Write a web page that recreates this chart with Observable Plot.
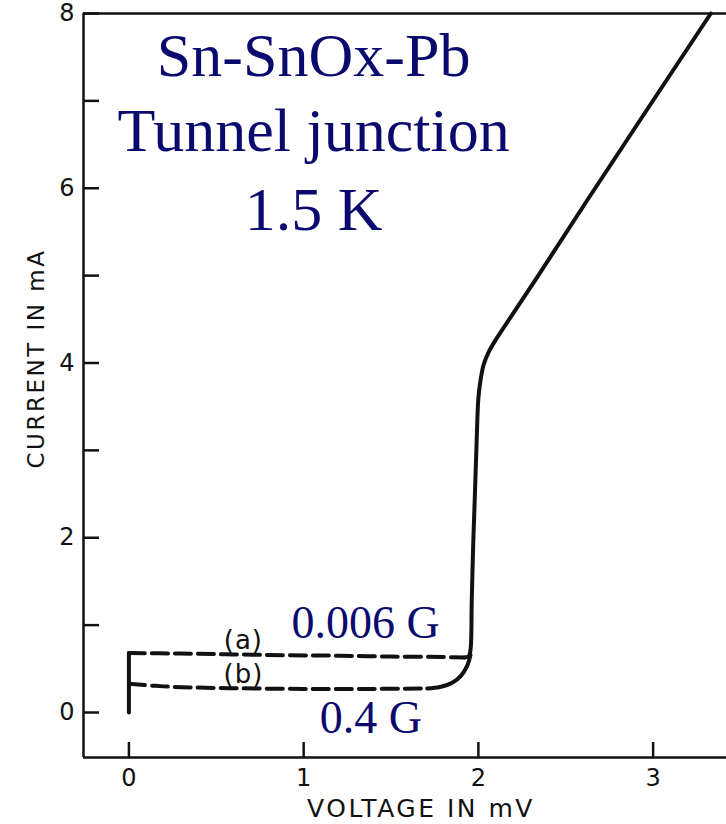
<!DOCTYPE html>
<html>
<head>
<meta charset="utf-8">
<script src="https://cdn.jsdelivr.net/npm/d3@7"></script>
<script src="https://cdn.jsdelivr.net/npm/@observablehq/plot@0.6"></script>
<style>
  html, body { margin: 0; padding: 0; background: #fff; }
  svg { display: block; }
</style>
</head>
<body>
<div id="chart"></div>
<script>
// ---- data (voltage in mV, current in mA) ----
// solid vertical start at V = 0
const startV = [0, 0];
const startI = [0, 0.68];
// curve (a) dashed, 0.006 G
const aV = [0, 0.3, 0.6, 0.9, 1.2, 1.5, 1.8, 1.92];
const aI = [0.68, 0.675, 0.665, 0.655, 0.65, 0.64, 0.635, 0.63];
// curve (b) dashed, 0.4 G
const bV = [0, 0.15, 0.3, 0.6, 1.0, 1.4, 1.707];
const bI = [0.33, 0.305, 0.29, 0.278, 0.27, 0.27, 0.275];
// curve (b) solid joining segment
const bJoinV = [1.707, 1.78, 1.85, 1.9, 1.935, 1.955];
const bJoinI = [0.275, 0.292, 0.34, 0.42, 0.53, 0.66];
// main solid rise (from end of curve (a))
const mainV = [1.92, 1.945, 1.955, 1.962, 1.97, 1.979, 1.99, 2.0, 2.012, 2.03, 2.06, 2.107, 2.2, 2.336, 2.622, 3.33];
const mainI = [0.63, 0.645, 0.72, 1.28, 1.9, 2.43, 3.1, 3.6, 3.8, 3.98, 4.13, 4.29, 4.57, 4.98, 5.86, 8.0];

// axis ticks
const xTicks = [0, 1, 2, 3];
const yLabelTicks = [0, 2, 4, 6, 8];
const yAllTicks = [0, 1, 2, 3, 4, 5, 6, 7, 8];
const xDomain = [-0.26, 3.42];
const yDomain = [-0.515, 8];

// annotations
const titleLines = ["Sn-SnOx-Pb", "Tunnel junction", "1.5 K"];
const titleV = [1.057, 1.057, 1.057];
const titleI = [7.29, 6.43, 5.52];
const fieldLabels = ["0.006 G", "0.4 G"];
const fieldV = [1.354, 1.384];
const fieldI = [0.847, -0.24];
const curveTags = ["(a)", "(b)"];
const tagV = [0.655, 0.655];
const tagI = [0.73, 0.335];

const zip = (vs, is, name) => vs.map((v, k) => ({v, i: is[k], s: name}));
const solid = [
  ...zip(startV, startI, "start"),
  ...zip(bJoinV, bJoinI, "bjoin"),
  ...zip(mainV, mainI, "main")
];
const dashed = [...zip(aV, aI, "a"), ...zip(bV, bI, "b")];
const titles = titleLines.map((t, k) => ({t, v: titleV[k], i: titleI[k]}));
const fields = fieldLabels.map((t, k) => ({t, v: fieldV[k], i: fieldI[k]}));
const tags = curveTags.map((t, k) => ({t, v: tagV[k], i: tagI[k]}));

const navy = "#0a0a6e";
const ink = "#111";
const sans = "DejaVu Sans, Liberation Sans, Arial, sans-serif";
const serif = "Liberation Serif, Times New Roman, serif";

const chart = Plot.plot({
  width: 726,
  height: 824,
  marginLeft: 83,
  marginRight: 0,
  marginTop: 13,
  marginBottom: 67,
  style: {fontFamily: sans, fontSize: "20px", color: ink, background: "#fff", overflow: "visible"},
  x: {domain: xDomain, axis: null},
  y: {domain: yDomain, axis: null},
  marks: [
    // frame lines
    Plot.ruleX([xDomain[0]], {stroke: ink, strokeWidth: 2.5}),
    Plot.ruleY([yDomain[0]], {stroke: ink, strokeWidth: 2.5}),
    Plot.ruleY([yDomain[1]], {stroke: ink, strokeWidth: 2.5}),
    // inward ticks
    Plot.axisX(xTicks, {tickSize: -15, tickFormat: () => "", label: null, stroke: ink, strokeWidth: 2.5}),
    Plot.axisY(yAllTicks, {tickSize: -16, tickFormat: () => "", label: null, stroke: ink, strokeWidth: 2.5}),
    // tick labels
    Plot.text(xTicks, {x: d => d, text: d => String(d), frameAnchor: "bottom", lineAnchor: "top", dy: 11, fontSize: 24, fill: ink}),
    Plot.text(yLabelTicks, {y: d => d, text: d => String(d), frameAnchor: "left", textAnchor: "end", dx: -9, fontSize: 24, fill: ink}),
    // axis titles
    Plot.text(["VOLTAGE IN mV"], {frameAnchor: "bottom", textAnchor: "middle", dx: 16, dy: 59, fontSize: 25, fill: ink, lineAnchor: "bottom"}),
    Plot.text(["CURRENT IN mA"], {frameAnchor: "left", textAnchor: "middle", dx: -40, dy: -27, rotate: -90, fontSize: 23, fill: ink, lineAnchor: "bottom"}),
    // curves
    Plot.line(dashed, {x: "v", y: "i", z: "s", stroke: ink, strokeWidth: 4, strokeDasharray: "16,7", curve: "catmull-rom"}),
    Plot.line(solid, {x: "v", y: "i", z: "s", stroke: ink, strokeWidth: 4, curve: "catmull-rom", strokeLinejoin: "round"}),
    // curve tags
    Plot.text(tags, {x: "v", y: "i", text: "t", fontSize: 26, fill: ink, lineAnchor: "bottom"}),
    // annotations
    Plot.text(titles, {x: "v", y: "i", text: "t", fontSize: 62, fill: navy, lineAnchor: "bottom", fontFamily: serif}),
    Plot.text(fields, {x: "v", y: "i", text: "t", fontSize: 46, fill: navy, lineAnchor: "bottom", fontFamily: serif})
  ]
});

// letter spacing to match the hand-lettered originals
chart.querySelectorAll("text").forEach(t => {
  const s = t.textContent;
  if (s === "VOLTAGE IN mV") t.setAttribute("letter-spacing", "2.5");
  if (s === "CURRENT IN mA") t.setAttribute("letter-spacing", "2.5");
  if (s === "(a)" || s === "(b)") t.setAttribute("letter-spacing", "1");
});
document.getElementById("chart").appendChild(chart);
</script>
</body>
</html>
